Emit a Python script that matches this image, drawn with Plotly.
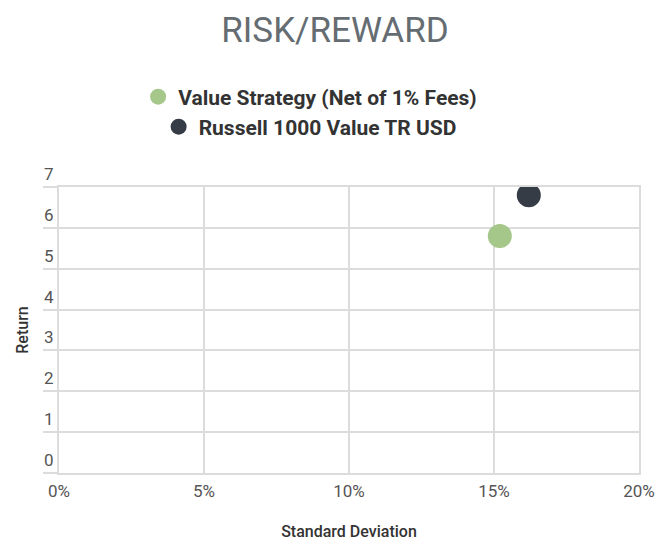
import plotly.graph_objects as go

series_names = ["Value Strategy (Net of 1% Fees)", "Russell 1000 Value TR USD"]
std_dev = [15.2, 16.2]      # % standard deviation
returns = [5.8, 6.8]        # return
colors = ["#a5c78a", "#363c45"]
x_ticks = [0, 5, 10, 15, 20]
x_tick_labels = ["0%", "5%", "10%", "15%", "20%"]
y_ticks = [0, 1, 2, 3, 4, 5, 6, 7]

FONT = "Roboto, sans-serif"
GRID = "#dcdcdc"

fig = go.Figure()
legend_names = ["legend", "legend2"]
for i, name in enumerate(series_names):
    fig.add_trace(go.Scatter(
        x=[std_dev[i]], y=[returns[i]], mode="markers", name=name,
        marker=dict(size=24, color=colors[i]),
        legend=legend_names[i],
    ))

# page body adds an 8px offset, so the figure is drawn 8px smaller
OFF = 8
W, H = 670 - OFF, 550 - OFF
l, t = 59 - OFF, 187 - OFF
r = W - (639 - OFF)
b = H - (473 - OFF)
ph = H - t - b

def py(pix):
    return (H - b - (pix - OFF)) / ph

legend_font = dict(family=FONT, size=21, color="#333333", weight="bold")
fig.update_layout(
    width=W, height=H,
    margin=dict(l=l, r=r, t=t, b=b, autoexpand=False),
    paper_bgcolor="white", plot_bgcolor="white",
    title=dict(text="RISK/REWARD", x=(335 - OFF) / W, xanchor="center", xref="container",
               y=1 - (30 - OFF) / H, yanchor="middle", yref="container",
               font=dict(family=FONT, size=35, color="#656d72")),
    legend=dict(x=0.433, xanchor="center", y=py(97), yanchor="middle",
                font=legend_font, bgcolor="rgba(0,0,0,0)", itemsizing="trace"),
    legend2=dict(x=0.433, xanchor="center", y=py(127), yanchor="middle",
                 font=legend_font, bgcolor="rgba(0,0,0,0)", itemsizing="trace"),
    showlegend=True,
)
fig.update_xaxes(
    range=[0, 20], tickvals=x_ticks, ticktext=x_tick_labels,
    showgrid=True, gridcolor=GRID, gridwidth=2,
    zeroline=False, showline=True, mirror=True, linecolor=GRID, linewidth=2,
    ticks="", ticklabelstandoff=2,
    tickfont=dict(family=FONT, size=17, color="#555555"),
    title=dict(text="Standard Deviation", standoff=25,
               font=dict(family=FONT, size=16, color="#333333", weight=500)),
    fixedrange=True,
)
fig.update_yaxes(
    range=[0, 7], tickvals=y_ticks,
    showgrid=True, gridcolor=GRID, gridwidth=2,
    zeroline=False, showline=True, mirror=True, linecolor=GRID, linewidth=2,
    ticks="outside", ticklen=14, tickcolor=GRID, tickwidth=2,
    ticklabelshift=-13, ticklabelstandoff=-14,
    tickfont=dict(family=FONT, size=17, color="#555555"),
    title=dict(text="Return", standoff=11,
               font=dict(family=FONT, size=16, color="#333333", weight=500)),
    fixedrange=True,
)
fig.write_html("out.html")
